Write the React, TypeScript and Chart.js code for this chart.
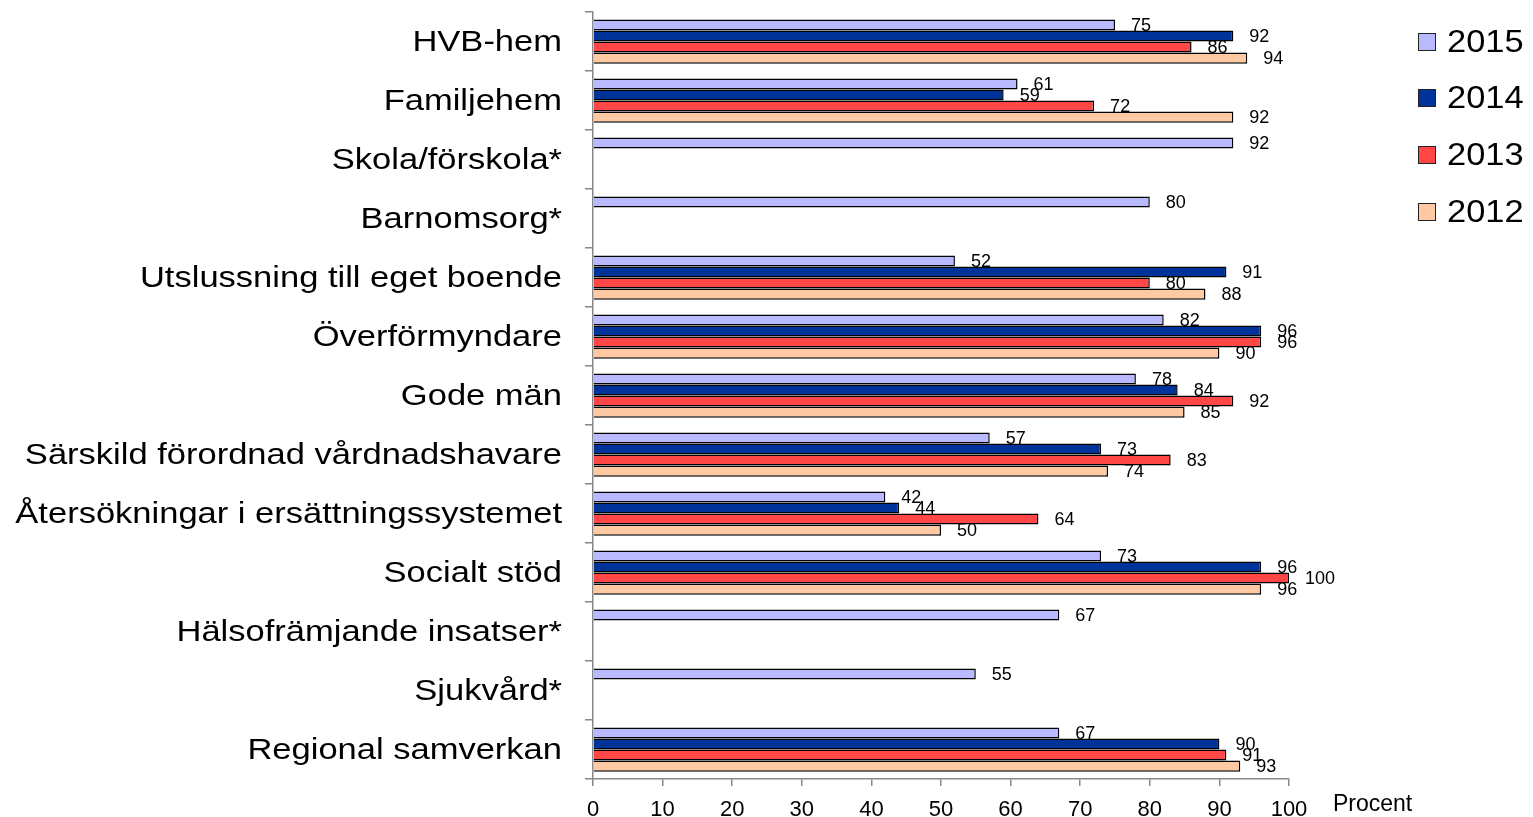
import React, { useEffect, useRef } from "react";
import { Chart, registerables } from "chart.js";

Chart.register(...registerables);

const categories = [
  "HVB-hem",
  "Familjehem",
  "Skola/förskola*",
  "Barnomsorg*",
  "Utslussning till eget boende",
  "Överförmyndare",
  "Gode män",
  "Särskild förordnad vårdnadshavare",
  "Återsökningar i ersättningssystemet",
  "Socialt stöd",
  "Hälsofrämjande insatser*",
  "Sjukvård*",
  "Regional samverkan",
];

const seriesNames = ["2015", "2014", "2013", "2012"];
const values2015 = [75, 61, 92, 80, 52, 82, 78, 57, 42, 73, 67, 55, 67];
const values2014 = [92, 59, null, null, 91, 96, 84, 73, 44, 96, null, null, 90];
const values2013 = [86, 72, null, null, 80, 96, 92, 83, 64, 100, null, null, 91];
const values2012 = [94, 92, null, null, 88, 90, 85, 74, 50, 96, null, null, 93];
const xTicks = [0, 10, 20, 30, 40, 50, 60, 70, 80, 90, 100];
const axisTitle = "Procent";

const colors = ["#B9B9FF", "#003399", "#FF4747", "#FFC9A3"];
const FONT = "Arial, 'Liberation Sans', sans-serif";

export default function App() {
  const ref = useRef<HTMLCanvasElement | null>(null);

  useEffect(() => {
    document.body.style.margin = "0";
    const canvas = ref.current;
    if (!canvas) return;
    const allValues = [values2015, values2014, values2013, values2012];

    const labelsPlugin = {
      id: "valueLabels",
      afterDatasetsDraw(chart: any) {
        const ctx = chart.ctx;
        ctx.save();
        ctx.font = `18px ${FONT}`;
        ctx.fillStyle = "#000";
        ctx.textAlign = "left";
        ctx.textBaseline = "middle";
        chart.data.datasets.forEach((ds: any, i: number) => {
          const meta = chart.getDatasetMeta(i);
          meta.data.forEach((el: any, j: number) => {
            const v = ds.data[j];
            if (v === null || v === undefined) return;
            ctx.fillText(String(v), el.x + 16, el.y + 1);
          });
        });
        ctx.restore();
      },
    };

    const textPlugin = {
      id: "customText",
      afterDraw(chart: any) {
        const ctx = chart.ctx;
        const yScale = chart.scales.y;
        ctx.save();
        // category labels
        ctx.fillStyle = "#000";
        ctx.font = `29px ${FONT}`;
        ctx.textAlign = "right";
        ctx.textBaseline = "middle";
        categories.forEach((c, i) => {
          const y = yScale.getPixelForValue(i);
          ctx.save();
          ctx.translate(yScale.right - 31, y + 1);
          ctx.scale(1.19, 1);
          ctx.fillText(c, 0, 0);
          ctx.restore();
        });
        // legend
        const ys = [42, 98, 155, 212];
        seriesNames.forEach((name, i) => {
          const y = ys[i];
          ctx.fillStyle = colors[i];
          ctx.fillRect(1418, y - 9, 18, 18);
          ctx.strokeStyle = "#222";
          ctx.lineWidth = 1;
          ctx.strokeRect(1418.5, y - 8.5, 17, 17);
          ctx.fillStyle = "#000";
          ctx.font = `31px ${FONT}`;
          ctx.textAlign = "left";
          ctx.textBaseline = "middle";
          ctx.save();
          ctx.translate(1447, y + 1);
          ctx.scale(1.11, 1);
          ctx.fillText(name, 0, 0);
          ctx.restore();
        });
        ctx.font = `23px ${FONT}`;
        ctx.textAlign = "left";
        ctx.textBaseline = "middle";
        ctx.fillText(axisTitle, 1333, 805);
        ctx.restore();
      },
    };

    const chart = new Chart(canvas, {
      type: "bar",
      data: {
        labels: categories,
        datasets: allValues.map((vals, i) => ({
          label: seriesNames[i],
          data: vals,
          backgroundColor: colors[i],
          borderColor: "#000",
          borderWidth: 1.5,
          categoryPercentage: 0.75,
          barPercentage: 1,
        })),
      },
      options: {
        indexAxis: "y",
        animation: false,
        responsive: true,
        maintainAspectRatio: false,
        layout: { padding: { left: 0, right: 244, top: 12, bottom: 0 } },
        plugins: {
          legend: { display: false },
          tooltip: { enabled: false },
        },
        scales: {
          y: {
            afterFit(scale: any) {
              scale.width = 593;
              scale.paddingTop = 0;
              scale.paddingBottom = 0;
            },
            grid: {
              drawOnChartArea: false,
              drawTicks: true,
              tickLength: 8,
              color: "#888",
              lineWidth: 1.5,
              offset: true,
            },
            border: { display: true, color: "#888", width: 1.5 },
            ticks: {
              display: false,
              autoSkip: false,
            },
          },
          x: {
            min: 0,
            max: 100,
            afterFit(scale: any) {
              scale.height = 38;
              scale.paddingLeft = 0;
              scale.paddingRight = 0;
            },
            afterBuildTicks(scale: any) {
              scale.ticks = xTicks.map((v) => ({ value: v }));
            },
            grid: {
              drawOnChartArea: false,
              drawTicks: true,
              tickLength: 7,
              color: "#888",
              lineWidth: 1.5,
            },
            border: { display: true, color: "#888", width: 1.5 },
            ticks: {
              color: "#000",
              font: { family: FONT, size: 22 },
              padding: 11,
              maxRotation: 0,
              autoSkip: false,
            },
          },
        },
      },
      plugins: [labelsPlugin, textPlugin],
    });
    return () => chart.destroy();
  }, []);

  return (
    <div style={{ position: "absolute", left: 0, top: 0, width: 1533, height: 817 }}>
      <canvas ref={ref} />
    </div>
  );
}
